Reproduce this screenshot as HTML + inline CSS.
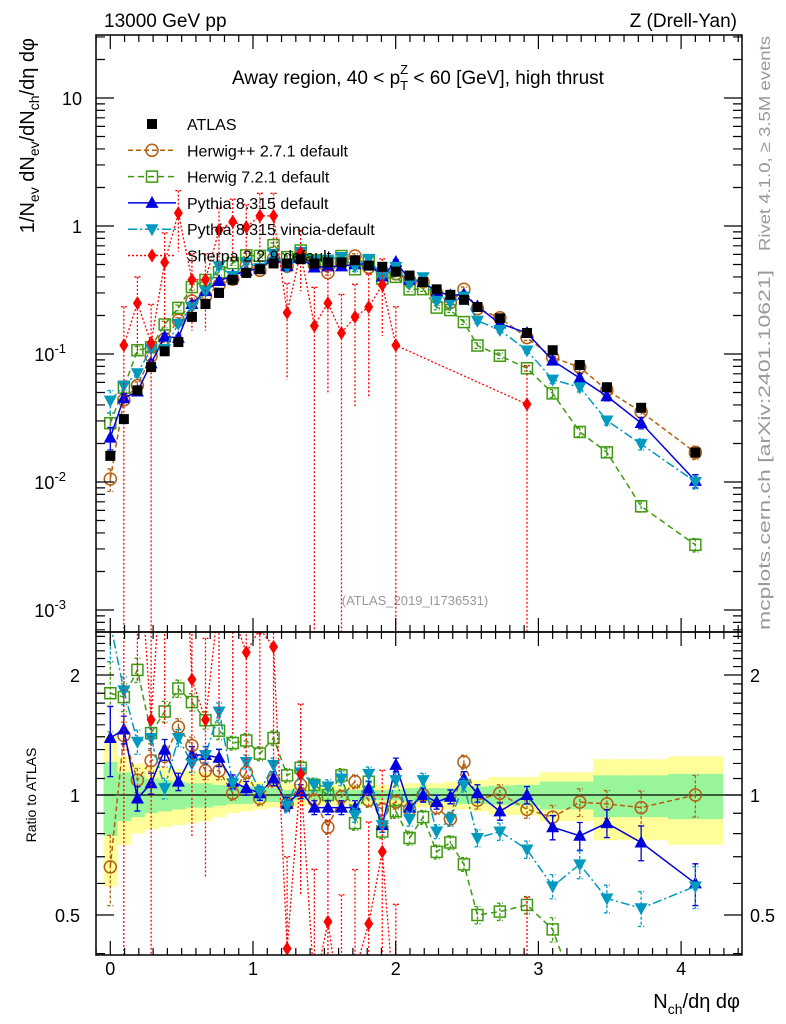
<!DOCTYPE html>
<html><head><meta charset="utf-8">
<style>
html,body{margin:0;padding:0;background:#fff;overflow:hidden;width:786px;height:1024px;}
svg{display:block;font-family:"Liberation Sans",sans-serif;}
</style></head>
<body>
<svg id="chart" width="786" height="1024" viewBox="0 0 786 1024" xmlns="http://www.w3.org/2000/svg">
<defs>
<clipPath id="clipMain"><rect x="96" y="35" width="646" height="597"/></clipPath>
<clipPath id="clipRatio"><rect x="96" y="632" width="646" height="323"/></clipPath>
</defs>
<rect x="0" y="0" width="786" height="1024" fill="#fff"/>
<text x="104" y="27" font-size="19">13000 GeV pp</text>
<text x="737" y="27" font-size="19" text-anchor="end">Z (Drell-Yan)</text>
<text x="418" y="84" font-size="19" text-anchor="middle">Away region, 40 &lt; p<tspan font-size="13" dy="6">T</tspan><tspan font-size="13" dx="-8" dy="-16">Z</tspan><tspan dy="10"> &lt; 60 [GeV], high thrust</tspan></text>
<text x="415" y="605" font-size="13" fill="#999" text-anchor="middle">(ATLAS_2019_I1736531)</text>
<text transform="translate(770,36) rotate(-90)" font-size="16" fill="#999" text-anchor="end" textLength="215" lengthAdjust="spacingAndGlyphs">Rivet 4.1.0, ≥ 3.5M events</text>
<text transform="translate(770,270) rotate(-90)" font-size="17" fill="#999" text-anchor="end" textLength="360" lengthAdjust="spacingAndGlyphs">mcplots.cern.ch [arXiv:2401.10621]</text>
<text transform="translate(34,38) rotate(-90)" font-size="20" text-anchor="end">1/N<tspan font-size="14" dy="5">ev</tspan><tspan dy="-5"> dN</tspan><tspan font-size="14" dy="5">ev</tspan><tspan dy="-5">/dN</tspan><tspan font-size="14" dy="5">ch</tspan><tspan dy="-5">/dη dφ</tspan></text>
<text transform="translate(36,795) rotate(-90)" font-size="14" text-anchor="middle">Ratio to ATLAS</text>
<text x="740" y="1008" font-size="20" text-anchor="end">N<tspan font-size="14" dy="6">ch</tspan><tspan dy="-6">/dη dφ</tspan></text>
<g id="gMain" clip-path="url(#clipMain)"></g>
<g id="gRatio" clip-path="url(#clipRatio)"></g>
<g id="gAxes"></g>
<g id="gLegend"></g>
</svg>
<script>
const xVals = [0,0.095,0.19,0.286,0.381,0.477,0.572,0.667,0.762,0.858,0.953,1.048,1.144,1.239,1.334,1.43,1.525,1.62,1.715,1.811,1.906,2.001,2.097,2.192,2.287,2.383,2.478,2.573,2.73,2.92,3.10,3.29,3.48,3.72,4.10];
const atlas = [0.016,0.031,0.052,0.079,0.105,0.124,0.195,0.246,0.30,0.38,0.43,0.46,0.51,0.51,0.55,0.51,0.52,0.52,0.54,0.49,0.48,0.44,0.41,0.365,0.32,0.29,0.265,0.233,0.19,0.146,0.107,0.082,0.055,0.038,0.017];
const herwigppRatio = [0.66,1.41,1.09,1.22,1.25,1.48,1.33,1.15,1.15,1.01,1.14,0.98,1.09,0.95,1.06,0.97,0.83,0.99,1.08,0.97,0.92,0.96,0.92,1.0,0.93,0.87,1.21,0.97,1.01,0.92,0.88,0.96,0.95,0.93,1.0];
const herwig7Ratio = [1.80,1.76,2.06,1.43,1.62,1.85,1.71,1.54,1.45,1.35,1.37,1.27,1.39,1.12,1.17,1.06,1.0,1.12,0.85,1.08,0.81,0.91,0.78,0.88,0.72,0.76,0.67,0.50,0.51,0.53,0.46,0.30,0.31,0.17,0.19];
const pythiaRatio = [1.39,1.46,0.98,1.07,1.30,1.08,1.26,1.26,1.24,1.08,1.04,1.01,1.10,0.95,1.02,0.93,0.93,0.93,0.93,1.04,0.84,1.19,0.93,1.0,0.96,0.99,1.10,1.01,0.91,1.0,0.83,0.79,0.85,0.76,0.60];
const vinciaRatio = [2.7,1.83,1.36,1.39,1.04,1.39,1.20,1.26,1.62,1.07,1.21,1.02,1.19,0.94,1.14,1.06,1.05,1.10,0.89,1.13,0.84,1.09,0.87,1.09,0.81,0.87,1.06,0.78,0.81,0.73,0.59,0.67,0.55,0.52,0.59];
const sherpa = [null,0.117,0.25,0.122,0.52,1.26,0.38,0.38,0.93,1.08,0.98,1.2,1.2,0.21,0.62,0.166,0.25,0.146,0.195,0.233,0.346,0.117,null,null,null,null,null,null,null,0.0405,null,null,null,null,null];
const sherpaErr = [0,1,0.6,1,0.7,0.5,0.6,0.6,0.5,0.5,0.5,0.5,0.5,0.7,0.5,1,0.8,1,0.8,0.8,0.6,1,0,0,0,0,0,0,0,1,0,0,0,0,0];
const mcErr = [0.2,0.08,0.07,0.06,0.06,0.05,0.05,0.05,0.05,0.04,0.04,0.04,0.04,0.04,0.04,0.04,0.04,0.04,0.04,0.04,0.04,0.04,0.04,0.04,0.04,0.04,0.04,0.05,0.05,0.05,0.07,0.08,0.08,0.1,0.12];
const bandYellow = [1.41,1.25,1.2,1.18,1.17,1.16,1.15,1.14,1.12,1.1,1.09,1.08,1.07,1.07,1.06,1.06,1.06,1.06,1.06,1.06,1.06,1.06,1.07,1.07,1.07,1.08,1.08,1.09,1.11,1.11,1.14,1.14,1.23,1.23,1.25];
const bandGreen = [1.21,1.14,1.12,1.1,1.09,1.08,1.07,1.07,1.06,1.05,1.05,1.04,1.04,1.03,1.03,1.03,1.03,1.03,1.03,1.03,1.03,1.03,1.04,1.04,1.04,1.04,1.05,1.05,1.055,1.06,1.08,1.08,1.12,1.12,1.13];
const xTicks = [0,1,2,3,4];
const mainTickLabels = [["10",""],["1",""],["10","-1"],["10","-2"],["10","-3"]];
const mainTickValues = [10,1,0.1,0.01,0.001];
const ratioTickValues = [2,1,0.5];
const ratioTickLabels = ["2","1","0.5"];

const NS = "http://www.w3.org/2000/svg";
const X = u => 110.3 + 142.7 * u;
const YM = v => 226 - 128 * Math.log10(v);
const YR = r => 795 - 120 * Math.log2(r);
const gMain = document.getElementById('gMain');
const gRatio = document.getElementById('gRatio');
const gAxes = document.getElementById('gAxes');
const gLegend = document.getElementById('gLegend');
function mk(tag, attrs, parent){ const e=document.createElementNS(NS,tag); for(const k in attrs) e.setAttribute(k,attrs[k]); parent.appendChild(e); return e; }

const edges = [];
for (let i=0;i<=xVals.length;i++){
  if (i===0) edges.push(xVals[0]-(xVals[1]-xVals[0])/2);
  else if (i===xVals.length) edges.push(xVals[i-1]+(xVals[i-1]-xVals[i-2])/2);
  else edges.push((xVals[i-1]+xVals[i])/2);
}
xVals.forEach((x,i)=>{
  const y = mk('rect',{x:X(edges[i]),y:YR(bandYellow[i]),width:X(edges[i+1])-X(edges[i])+0.5,height:YR(2-bandYellow[i])-YR(bandYellow[i]),fill:'#ffff99'},gRatio);
  
  
});
xVals.forEach((x,i)=>{
  const g = mk('rect',{x:X(edges[i]),y:YR(bandGreen[i]),width:X(edges[i+1])-X(edges[i])+0.5,height:YR(2-bandGreen[i])-YR(bandGreen[i]),fill:'#99f599'},gRatio);
  
  
});
const one = mk('line',{x1:96,x2:742,y1:YR(1),y2:YR(1),stroke:'#000','stroke-width':1.3},gRatio);



function marker(kind,cx,cy,col,parent,name){
  let e;
  if(kind==='square') e=mk('rect',{x:cx-5,y:cy-5,width:10,height:10,fill:'#000'},parent);
  else if(kind==='circle') e=mk('circle',{cx:cx,cy:cy,r:6,fill:'none',stroke:col,'stroke-width':1.5},parent);
  else if(kind==='osquare') e=mk('rect',{x:cx-5.5,y:cy-5.5,width:11,height:11,fill:'none',stroke:col,'stroke-width':1.5},parent);
  else if(kind==='up') e=mk('polygon',{points:`${cx},${cy-7} ${cx-6.5},${cy+5} ${cx+6.5},${cy+5}`,fill:col},parent);
  else if(kind==='down') e=mk('polygon',{points:`${cx},${cy+7} ${cx-6.5},${cy-5} ${cx+6.5},${cy-5}`,fill:col},parent);
  else if(kind==='diamond') e=mk('polygon',{points:`${cx},${cy-7} ${cx-4.5},${cy} ${cx},${cy+7} ${cx+4.5},${cy}`,fill:col},parent);
  
  
  return e;
}

const series = [
  {name:'herwigpp',ratio:herwigppRatio,col:'#b35f14',dash:'5,3',kind:'circle'},
  {name:'herwig7',ratio:herwig7Ratio,col:'#3f9a12',dash:'6,4',kind:'osquare'},
  {name:'pythia',ratio:pythiaRatio,col:'#0000dd',dash:'',kind:'up'},
  {name:'vincia',ratio:vinciaRatio,col:'#0099c0',dash:'9,3,2,3',kind:'down'}
];

function drawSeries(s){
  const mainVals = s.ratio.map((r,i)=>r*atlas[i]);
  [[gMain,mainVals,YM,'main'],[gRatio,s.ratio,YR,'ratio']].forEach(([g,vals,Y,tag])=>{
    const pts = vals.map((v,i)=>`${X(xVals[i])},${Y(v)}`).join(' ');
    const pl = mk('polyline',{points:pts,fill:'none',stroke:s.col,'stroke-width':1.5,'stroke-dasharray':s.dash},g);
    
    
    vals.forEach((v,i)=>{
      const cx=X(xVals[i]);
      const e=mcErr[i];
      const eb = mk('path',{d:`M${cx},${Y(v*(1+e))}V${Y(v*(1-e))}M${cx-3},${Y(v*(1+e))}h6M${cx-3},${Y(v*(1-e))}h6`,stroke:s.col,'stroke-width':1.3,fill:'none','stroke-dasharray':s.dash?'3,2':''},g);
      
      
      marker(s.kind,cx,Y(v),s.col,g,s.name+'-point');
    });
  });
}
series.forEach(drawSeries);

(function(){
  const col='#ff0000';
  [[gMain,sherpa,YM,'main',632],[gRatio,sherpa.map((v,i)=>v==null?null:v/atlas[i]),YR,'ratio',955]].forEach(([g,vals,Y,tag,bottom])=>{
    const pts=[]; vals.forEach((v,i)=>{ if(v!=null) pts.push(`${X(xVals[i])},${Y(v)}`); });
    const pl=mk('polyline',{points:pts.join(' '),fill:'none',stroke:col,'stroke-width':1.3,'stroke-dasharray':'2,2'},g);
    
    
    vals.forEach((v,i)=>{
      if(v==null) return;
      const cx=X(xVals[i]); const e=sherpaErr[i];
      const lo = e>=1 ? bottom : Math.min(bottom,Y(v*(1-e)));
      const hi = Math.max(0,Y(v*(1+e)));
      const eb=mk('path',{d:`M${cx},${hi}V${lo}M${cx-3},${hi}h6`,stroke:col,'stroke-width':1.3,'stroke-dasharray':'2,2',fill:'none'},g);
      
      
      marker('diamond',cx,Y(v),col,g,'sherpa-point');
    });
  });
})();

atlas.forEach((v,i)=>{
  marker('square',X(xVals[i]),YM(v),'#000',gMain,'atlas-point');
});

const f1=mk('rect',{x:96,y:35,width:646,height:597,fill:'none',stroke:'#000','stroke-width':1.5},gAxes);


const f2=mk('rect',{x:96,y:632,width:646,height:323,fill:'none',stroke:'#000','stroke-width':1.5},gAxes);



let d='';
for(let k=-1;k<=44;k++){
  const u=k/10; const px=X(u); if(px<96||px>742) continue;
  const major = k%10===0; const L = major?14:7;
  d+=`M${px},632v${-L}M${px},35v${L}M${px},955v${-L}M${px},632v${L}`;
}
for(let e=-4;e<=1;e++){
  for(let m=1;m<=9;m++){
    const v=m*Math.pow(10,e); const py=YM(v); if(py<35||py>632) continue;
    const L = m===1?18:9;
    d+=`M96,${py}h${L}M742,${py}h${-L}`;
  }
}
for(let k=4;k<=25;k++){
  const r=k/10; const py=YR(r); if(py<632||py>955) continue;
  const L=(k===5||k===10||k===20)?18:9;
  d+=`M96,${py}h${L}M742,${py}h${-L}`;
}
const ticks=mk('path',{d:d,stroke:'#000','stroke-width':1.2,fill:'none'},gAxes);



xTicks.forEach(t=>{
  const tx=mk('text',{x:X(t),y:975,'font-size':18,'text-anchor':'middle'},gAxes);
  tx.textContent=String(t);
  
  
});
mainTickValues.forEach((v,i)=>{
  const [b,ex]=mainTickLabels[i];
  const t=mk('text',{x:ex?66:82,y:YM(v)+7,'font-size':18,'text-anchor':'end'},gAxes);
  t.textContent=b;
  if(ex){ const s=mk('tspan',{'font-size':13,dy:-8},t); s.textContent=ex; }
  
  
});
ratioTickValues.forEach((v,i)=>{
  const t=mk('text',{x:80,y:YR(v)+7,'font-size':18,'text-anchor':'end'},gAxes);
  t.textContent=ratioTickLabels[i];
  
  
  const t2=mk('text',{x:750,y:YR(v)+7,'font-size':18},gAxes);
  t2.textContent=ratioTickLabels[i];
  
  
});

const legend = [
  {label:'ATLAS',kind:'square',col:'#000',dash:null},
  {label:'Herwig++ 2.7.1 default',kind:'circle',col:'#b35f14',dash:'5,3'},
  {label:'Herwig 7.2.1 default',kind:'osquare',col:'#3f9a12',dash:'6,4'},
  {label:'Pythia 8.315 default',kind:'up',col:'#0000dd',dash:''},
  {label:'Pythia 8.315 vincia-default',kind:'down',col:'#0099c0',dash:'9,3,2,3'},
  {label:'Sherpa 2.2.9 default',kind:'diamond',col:'#ff0000',dash:'2,2'}
];
legend.forEach((l,i)=>{
  const y=124+i*26.3;
  const g=mk('g',{},gLegend);
  
  
  if(l.dash!==null){ mk('line',{x1:128,x2:176,y1:y,y2:y,stroke:l.col,'stroke-width':1.5,'stroke-dasharray':l.dash},g); }
  marker(l.kind,152,y,l.col,g,'legend-marker');
  const t=mk('text',{x:187,y:y+6,'font-size':16},g);
  t.textContent=l.label;
});
</script>
</body></html>
